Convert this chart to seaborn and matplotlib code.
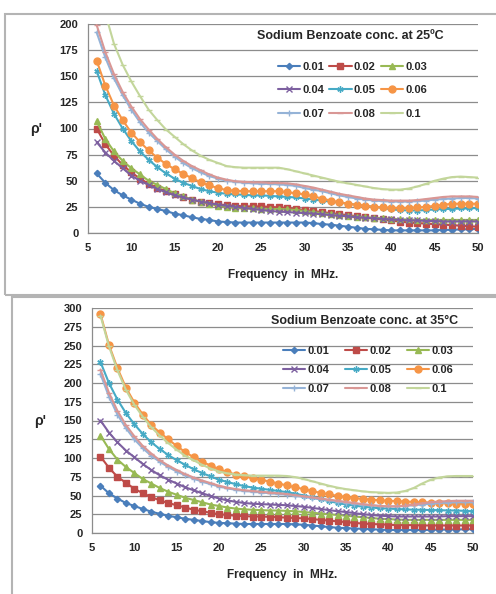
import matplotlib
matplotlib.use("Agg")
import matplotlib.pyplot as plt
from matplotlib.patches import Rectangle
import pandas as pd
import seaborn as sns

# Frequencies (MHz) and concentrations
freq = list(range(6, 51))
conc_labels = ['0.01', '0.02', '0.03', '0.04', '0.05', '0.06', '0.07', '0.08', '0.1']

# rho' at 25 C
r25_001 = [57, 48, 41, 36, 32, 28, 25, 23, 21, 18.5, 17, 15, 13.5, 12.5, 11, 10.5, 10, 10, 10, 10,
           10, 10, 10, 10, 10, 9.5, 8.5, 8, 7, 6, 5, 4, 3.5, 3, 2.5, 2.5, 2.5, 2.5, 2.5, 2.5,
           3, 3, 3.5, 3.5, 4]
r25_002 = [100, 85, 74, 65, 58, 52, 47, 43, 40, 37, 34, 32, 30, 28.5, 27.5, 26.5, 26, 25.5, 25.5, 25.5,
           25, 24.5, 24, 23, 22, 21, 20, 19, 18, 17, 16, 15, 14, 13, 12, 11, 10, 9.5, 9, 8.5,
           8, 7.5, 7, 6.5, 6]
r25_003 = [107, 90, 78, 69, 62, 56, 50, 46, 42, 38, 35, 32, 30, 28, 26, 25, 24, 23.5, 23.5, 23,
           23, 23, 22.5, 22, 21, 20, 19, 18, 17, 16, 15.5, 15, 14.5, 14, 13.5, 13, 13, 12.5, 12.5, 12.5,
           12.5, 12.5, 12.5, 12.5, 12.5]
r25_004 = [87, 77, 69, 62, 55, 50, 46, 42, 39, 36, 34, 32, 30, 28.5, 27, 26, 25, 24, 23, 22,
           21, 20.5, 20, 19.5, 19, 18.5, 18, 17, 16.5, 16, 15, 14.5, 14, 13.5, 13, 12.5, 12, 12, 11.5, 11.5,
           11, 11, 11, 11, 11]
r25_005 = [155, 132, 114, 100, 88, 78, 70, 63, 57, 52, 48, 45, 42, 40, 38.5, 37.5, 37, 36.5, 36, 36,
           35.5, 35, 34.5, 34, 33, 32, 31, 30, 29, 28, 27, 26, 25, 24, 22.5, 22, 21.5, 21.5, 22, 22.5,
           23, 23, 23.5, 23.5, 24]
r25_006 = [165, 141, 122, 108, 96, 87, 79, 72, 66, 61, 56.5, 52.5, 48.5, 45.5, 43, 41, 40.5, 40, 40, 40,
           40, 40, 39, 38, 37, 35, 33, 31, 29.5, 28, 27, 26, 25, 24.5, 24, 24, 24, 24.5, 25, 26,
           27, 28, 28, 28, 28]
r25_007 = [192, 168, 148, 132, 118, 106, 96, 88, 80, 73, 67, 62, 58, 54.5, 52, 50, 49, 48, 47.5, 47,
           47, 46.5, 46, 45, 43, 41.5, 40, 38, 36, 34.5, 33, 32, 31, 30.5, 30, 30, 30, 30.5, 31, 32,
           32.5, 33, 33.5, 33.5, 33]
r25_008 = [199, 173, 152, 135, 121, 109, 99, 90, 82, 75, 69, 64, 60, 56, 53, 51, 49.5, 49, 48.5, 48.5,
           48, 48, 47.5, 46.5, 45, 43.5, 41.5, 39.5, 37.5, 36, 34.5, 33, 32, 31.5, 31, 31, 31, 31.5, 32.5, 33.5,
           34.5, 35, 35, 35, 34.5]
r25_010 = [238, 210, 181, 161, 145, 131, 118, 108, 99, 92, 85, 79, 74, 70, 67, 64, 63, 62.5, 62.5, 62.5,
           62.5, 62.5, 61, 59, 57, 55, 53, 51, 49, 47.5, 46, 44.5, 43, 42, 41.5, 41.5, 42.5, 44.5, 47, 50,
           52, 53.5, 54, 53.5, 53]

# rho' at 35 C
r35_001 = [63, 53, 46, 40, 36, 32, 28.5, 25.5, 23, 21, 19, 17.5, 16, 14.5, 13.5, 13, 12.5, 12, 12, 12,
           12, 12, 12, 11.5, 11, 10, 9, 8, 7, 6.5, 6, 5.5, 5, 4.5, 4, 4, 4, 4, 4, 4,
           4.5, 4.5, 4.5, 5, 5]
r35_002 = [102, 87, 75, 67, 59, 53, 48, 43.5, 40, 37, 34, 31, 29, 27, 25, 24, 23, 22.5, 22, 22,
           21.5, 21, 20.5, 20, 19.5, 18.5, 17.5, 16.5, 15.5, 14.5, 13.5, 12.5, 12, 11.5, 11, 10.5, 10.5, 10.5, 10, 10,
           10, 10, 10, 10, 10]
r35_003 = [130, 112, 98, 88, 80, 72, 66, 60, 55, 51, 47, 44, 41, 38, 36, 34, 32.5, 31.5, 31, 30.5,
           30, 30, 29.5, 29, 28, 27, 26, 25, 24, 23, 22, 21, 20, 19, 18.5, 18, 17.5, 17.5, 17.5, 17.5,
           17.5, 17.5, 17.5, 17.5, 17.5]
r35_004 = [150, 134, 121, 110, 101, 92, 84, 77, 71, 66, 61, 57, 53, 49.5, 46, 43.5, 41.5, 40, 39, 38.5,
           38, 37.5, 37, 36, 35, 33.5, 32, 30.5, 29, 28, 26.5, 25, 24, 23, 22.5, 22, 22, 22, 22, 22,
           22, 22.5, 22.5, 22.5, 22.5]
r35_005 = [228, 200, 178, 160, 145, 132, 121, 112, 104, 97, 91, 85, 80, 75.5, 71, 68, 65, 62.5, 60.5, 59,
           57.5, 56, 54.5, 52.5, 50, 47.5, 45, 42.5, 40, 38, 36.5, 35, 34, 33, 32.5, 32, 31.5, 31, 31, 30.5,
           30.5, 30, 30, 29.5, 29]
r35_006 = [292, 251, 220, 194, 174, 158, 144, 134, 125, 116, 108, 101, 95, 90, 85, 81, 78, 75.5, 73, 71,
           68.5, 66, 63.5, 61, 58.5, 56, 53.5, 51.5, 49.5, 48, 46.5, 45.5, 44.5, 43.5, 43, 42.5, 42, 41.5, 41, 40.5,
           40, 39.5, 39, 39, 38.5]
r35_007 = [212, 182, 158, 140, 125, 113, 103, 95, 88, 82, 77, 72.5, 68.5, 65, 62, 59.5, 57.5, 56, 55, 54,
           53, 52, 51, 49.5, 48, 46.5, 45, 43.5, 42, 40.5, 39, 38, 37, 36, 35.5, 35.5, 36, 37, 38, 39,
           40, 40.5, 41, 41, 41]
r35_008 = [218, 187, 163, 144, 129, 116, 106, 97, 90, 84, 78.5, 74, 70, 66.5, 63, 60.5, 58.5, 57, 56, 55,
           54, 53, 52, 50.5, 49, 47.5, 46, 44.5, 43, 41.5, 40, 38.5, 37, 36, 35.5, 35.5, 36.5, 38, 39.5, 41,
           42, 42.5, 43, 43, 43]
r35_010 = [290, 249, 217, 191, 171, 155, 141, 130, 120, 111, 103, 97, 91, 86, 82, 79.5, 78, 77, 76.5, 76.5,
           76.5, 76.5, 76, 74.5, 72, 69, 66, 63, 60.5, 58.5, 57, 55.5, 54.5, 54, 53.5, 54, 56, 60, 66, 71,
           74, 75.5, 76, 76, 76]

colors = ['#4A7EBB', '#BE4B48', '#98B954', '#7D60A0', '#46AAC5', '#F69546', '#95B3D7', '#D99795', '#C3D69B']
markers = ['D', 's', '^', 'x', (6, 2, 0), 'o', '+', '_', '_']
msizes = [3.2, 4.0, 4.2, 4.0, 4.5, 5.0, 5.0, 5.0, 5.0]


def long_frame(series):
    rows = []
    for lab, vals in zip(conc_labels, series):
        for f, v in zip(freq, vals):
            rows.append({'freq': f, 'rho': v, 'conc': lab})
    return pd.DataFrame(rows)


df25 = long_frame([r25_001, r25_002, r25_003, r25_004, r25_005, r25_006, r25_007, r25_008, r25_010])
df35 = long_frame([r35_001, r35_002, r35_003, r35_004, r35_005, r35_006, r35_007, r35_008, r35_010])

sns.set_style('white')
plt.rcParams['font.family'] = ['Liberation Sans', 'DejaVu Sans']
plt.rcParams['font.weight'] = 'bold'

W, H = 496, 594
fig = plt.figure(figsize=(W / 100, H / 100), dpi=100)
grid_c = '#8C8C8C'


def px_axes(left, top, right, bottom):
    return fig.add_axes([left / W, 1 - bottom / H, (right - left) / W, (bottom - top) / H])


def draw_panel(ax, df, ymax, title, tx, ty, leg_xy, lspace, cspace):
    for i, lab in enumerate(conc_labels):
        sns.lineplot(data=df[df['conc'] == lab], x='freq', y='rho', ax=ax, color=colors[i],
                     marker=markers[i], markersize=msizes[i], markeredgecolor=colors[i],
                     markeredgewidth=1.0, linewidth=1.5, label=lab)
    ax.set_xlim(5, 50)
    ax.set_ylim(0, ymax)
    ax.set_xticks(range(5, 51, 5))
    ax.set_yticks(range(0, ymax + 1, 25))
    ax.yaxis.grid(True, color=grid_c, linewidth=0.9)
    ax.set_axisbelow(True)
    for s in ['top', 'right']:
        ax.spines[s].set_visible(False)
    for s in ['left', 'bottom']:
        ax.spines[s].set_color(grid_c)
        ax.spines[s].set_linewidth(0.9)
    ax.tick_params(axis='both', length=3, width=0.8, color=grid_c, labelsize=8, pad=4)
    for t in ax.get_xticklabels() + ax.get_yticklabels():
        t.set_fontweight('bold')
    ax.set_xlabel('Frequency  in  MHz.', fontsize=8.5, fontweight='bold', labelpad=12)
    ax.set_ylabel("ρ'", fontsize=10, fontweight='bold', rotation=0, labelpad=17, va='center')
    handles, labels = ax.get_legend_handles_labels()
    # legend filled row by row, as in the spreadsheet chart
    order = [0, 3, 6, 1, 4, 7, 2, 5, 8]
    ax.legend([handles[k] for k in order], [labels[k] for k in order], ncol=3, frameon=False,
              loc='upper left', bbox_to_anchor=(leg_xy[0] / W, 1 - leg_xy[1] / H),
              bbox_transform=fig.transFigure, borderpad=0, borderaxespad=0, handlelength=2.0,
              handletextpad=0.2, labelspacing=lspace, columnspacing=cspace,
              prop={'weight': 'bold', 'size': 8})
    fig.text(tx / W, 1 - ty / H, title, fontsize=9, fontweight='bold', ha='center', va='center')


# outer boxes around both charts
fig.add_artist(Rectangle((5 / W, 1 - 295 / H), 495 / W, 281 / H, transform=fig.transFigure,
                         fill=False, edgecolor='#B4B4B4', linewidth=1.5))
fig.add_artist(Rectangle((12 / W, -0.01), 490 / W, 1 - 297 / H + 0.01, transform=fig.transFigure,
                         fill=False, edgecolor='#B4B4B4', linewidth=1.5))

ax1 = px_axes(88, 24, 478, 233)
draw_panel(ax1, df25, 200, 'Sodium Benzoate conc. at 25ºC', 350, 36, (278, 62), 1.2, 0.45)

ax2 = px_axes(92, 308, 473, 533)
draw_panel(ax2, df35, 300, 'Sodium Benzoate conc. at 35°C', 365, 321, (283, 346), 0.8, 1.4)

fig.savefig('out.png', dpi=100, facecolor='white')
